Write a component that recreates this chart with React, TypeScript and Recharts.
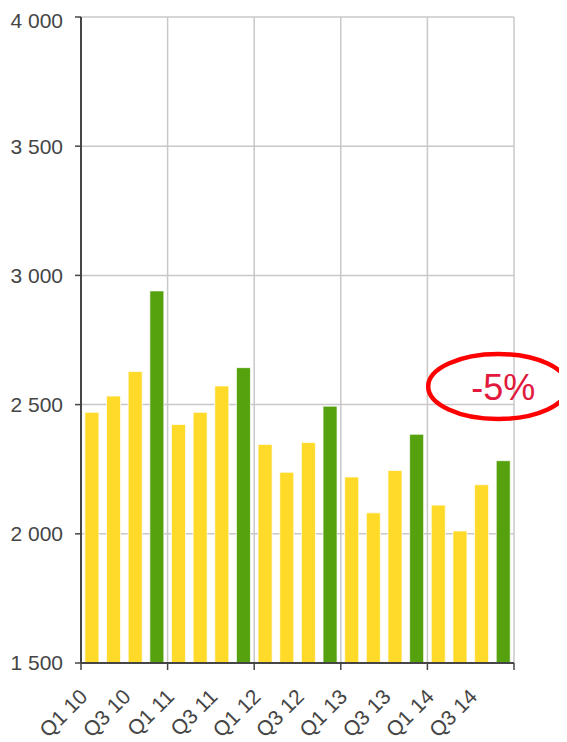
import { BarChart, Bar, XAxis, YAxis, CartesianGrid, Cell, ReferenceDot } from 'recharts';

const categories = [
  'Q1 10', 'Q2 10', 'Q3 10', 'Q4 10',
  'Q1 11', 'Q2 11', 'Q3 11', 'Q4 11',
  'Q1 12', 'Q2 12', 'Q3 12', 'Q4 12',
  'Q1 13', 'Q2 13', 'Q3 13', 'Q4 13',
  'Q1 14', 'Q2 14', 'Q3 14', 'Q4 14',
];

const values = [
  2470, 2533, 2628, 2940,
  2423, 2470, 2572, 2643,
  2346, 2238, 2353, 2494,
  2220, 2081, 2245, 2385,
  2111, 2011, 2190, 2283,
];

const yTicks = [1500, 2000, 2500, 3000, 3500, 4000];
const shownLabels = ['Q1', 'Q3'];
const annotationText = '-5%';
const annotationAt = { x: 'Q4 14', y: 2570 };

const YELLOW = '#FFDA29';
const GREEN = '#55A10E';
const AXIS = '#454545';
const GRID = '#c8c8c8';
const FONT = '"Liberation Sans", Arial, sans-serif';

const data = categories.map((c, i) => ({ name: c, value: values[i] }));

const fmt = (v: number) => {
  const s = String(v);
  return s.length > 3 ? s.slice(0, s.length - 3) + ' ' + s.slice(-3) : s;
};

function XTick(props: any) {
  const { x, y, payload, index } = props;
  const half = payload?.offset ?? 10.8;
  const label: string = payload.value;
  const q = label.split(' ')[0];
  const tx = x - 3;
  const ty = y + 35;
  return (
    <g>
      {q === 'Q1' && <line x1={x - half} x2={x - half} y1={y} y2={y + 7} stroke={AXIS} strokeWidth={1.5} />}
      {index === categories.length - 1 && (
        <line x1={x + half} x2={x + half} y1={y} y2={y + 7} stroke={AXIS} strokeWidth={1.5} />
      )}
      {shownLabels.includes(q) && (
        <text
          x={tx}
          y={ty}
          transform={`rotate(-45 ${tx} ${ty})`}
          textAnchor="end"
          fontSize={21}
          fontFamily={FONT}
          fill={AXIS}
        >
          {label}
        </text>
      )}
    </g>
  );
}

function Annotation(props: any) {
  const { cx, cy } = props;
  return (
    <g>
      <ellipse cx={cx - 5} cy={cy} rx={70} ry={32.5} fill="none" stroke="#ff0000" strokeWidth={4.5} />
      <text x={cx} y={cy + 13} textAnchor="middle" fontSize={36} fontFamily={FONT} fill="#e2183d">
        {annotationText}
      </text>
    </g>
  );
}

export default function App() {
  return (
    <div style={{ width: 559, height: 734, fontFamily: FONT }}>
      <BarChart
        width={559}
        height={734}
        data={data}
        margin={{ top: 9, right: 53, left: 0, bottom: 19 }}
        barCategoryGap="18%"
      >
        <CartesianGrid
          stroke={GRID}
          strokeWidth={1.5}
          verticalCoordinatesGenerator={({ offset }: any) =>
            [1, 2, 3, 4, 5].map(i => offset.left + (offset.width * i) / 5)
          }
        />
        <XAxis
          dataKey="name"
          interval={0}
          tickLine={false}
          tickSize={0}
          tickMargin={0}
          height={60}
          axisLine={{ stroke: AXIS, strokeWidth: 2 }}
          tick={(p: any) => <XTick {...p} />}
        />
        <YAxis
          domain={[1500, 4000]}
          ticks={yTicks}
          allowDataOverflow
          width={73}
          tickSize={6}
          tickMargin={12}
          tickFormatter={fmt}
          axisLine={{ stroke: AXIS, strokeWidth: 2 }}
          tickLine={{ stroke: AXIS, strokeWidth: 1.5 }}
          tick={{ fontSize: 21, fill: AXIS, fontFamily: FONT }}
        />
        <Bar dataKey="value" isAnimationActive={false} stroke="rgba(255,255,255,0.7)" strokeWidth={1}>
          {data.map(d => (
            <Cell key={d.name} fill={d.name.startsWith('Q4') ? GREEN : YELLOW} />
          ))}
        </Bar>
        <ReferenceDot
          x={annotationAt.x}
          y={annotationAt.y}
          r={1}
          shape={(p: any) => <Annotation {...p} />}
        />
      </BarChart>
    </div>
  );
}
